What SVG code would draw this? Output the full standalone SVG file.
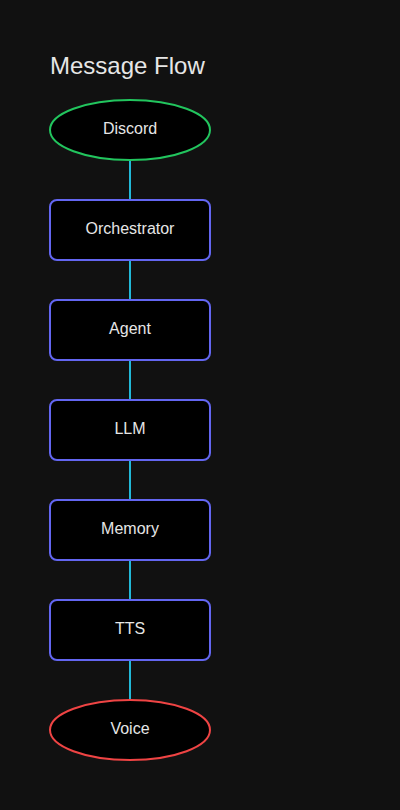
<svg xmlns="http://www.w3.org/2000/svg" width="400" height="810" viewBox="0 0 400 810">
<style>
text{font-family:"Liberation Sans",Arial,sans-serif;fill:#e6e6e6}
.t{font-size:16px;text-anchor:middle;dominant-baseline:central}
.box{fill:#000;stroke:#6366f1;stroke-width:2}
.c{stroke:#22b8d8;stroke-width:2}
</style>
<rect width="400" height="810" fill="#111111"/>
<text x="50" y="74" font-size="24">Message Flow</text>
<g id="connectors">
<line class="c" x1="130" y1="160" x2="130" y2="200"/>
<line class="c" x1="130" y1="260" x2="130" y2="300"/>
<line class="c" x1="130" y1="360" x2="130" y2="400"/>
<line class="c" x1="130" y1="460" x2="130" y2="500"/>
<line class="c" x1="130" y1="560" x2="130" y2="600"/>
<line class="c" x1="130" y1="660" x2="130" y2="700"/>
</g>
<g id="discord"><ellipse cx="130" cy="130" rx="80" ry="30" fill="#000" stroke="#22c55e" stroke-width="2"/><text class="t" x="130" y="128">Discord</text></g>
<g id="orchestrator"><rect class="box" x="50" y="200" width="160" height="60" rx="7"/><text class="t" x="130" y="228">Orchestrator</text></g>
<g id="agent"><rect class="box" x="50" y="300" width="160" height="60" rx="7"/><text class="t" x="130" y="328">Agent</text></g>
<g id="llm"><rect class="box" x="50" y="400" width="160" height="60" rx="7"/><text class="t" x="130" y="428">LLM</text></g>
<g id="memory"><rect class="box" x="50" y="500" width="160" height="60" rx="7"/><text class="t" x="130" y="528">Memory</text></g>
<g id="tts"><rect class="box" x="50" y="600" width="160" height="60" rx="7"/><text class="t" x="130" y="628">TTS</text></g>
<g id="voice"><ellipse cx="130" cy="730" rx="80" ry="30" fill="#000" stroke="#ef4444" stroke-width="2"/><text class="t" x="130" y="728">Voice</text></g>
</svg>
